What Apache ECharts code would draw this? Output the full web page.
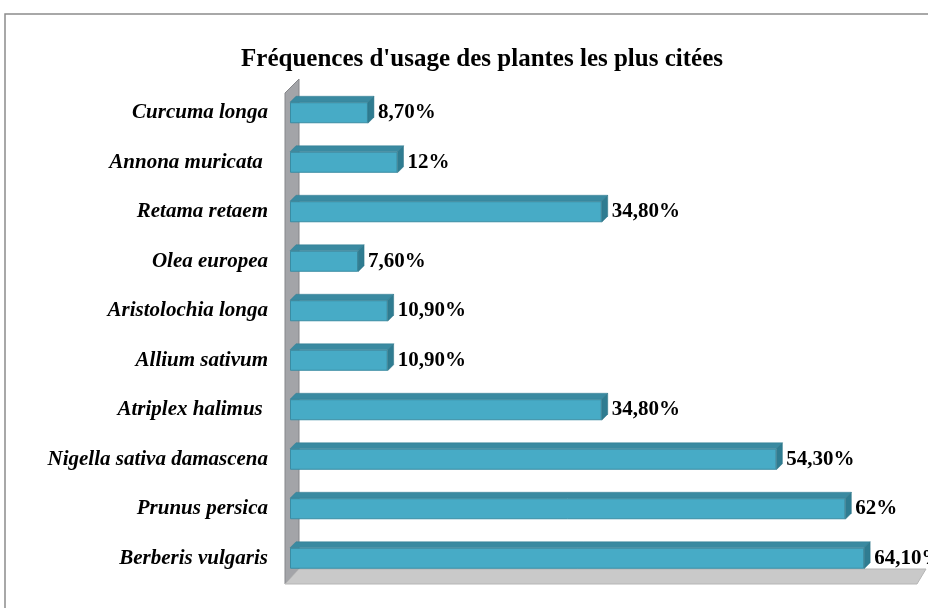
<!DOCTYPE html>
<html>
<head>
<meta charset="utf-8">
<script src="https://cdn.jsdelivr.net/npm/echarts@6/dist/echarts.min.js"></script>
<style>
html, body { margin: 0; padding: 0; background: #fff; }
#chartmain { width: 928px; height: 608px; }
</style>
</head>
<body>
<div id="chartmain"></div>
<script>
// donnees (de bas en haut)
var plantes = ['Berberis vulgaris', 'Prunus persica', 'Nigella sativa damascena', 'Atriplex halimus ',
	'Allium sativum', 'Aristolochia longa', 'Olea europea', 'Retama retaem', 'Annona muricata ', 'Curcuma longa'];
var frequences = [64.1, 62, 54.3, 34.8, 10.9, 10.9, 7.6, 34.8, 12, 8.7];
var etiquettes = ['64,10%', '62%', '54,30%', '34,80%', '10,90%', '10,90%', '7,60%', '34,80%', '12%', '8,70%'];

var serif = '"Liberation Serif", "DejaVu Serif", serif';
var depth = 6;
var barH = 21;

var option = {
	animation: false,
	title: {
		text: "Fréquences d'usage des plantes les plus citées",
		left: 477,
		textAlign: 'center',
		top: 42,
		textStyle: { fontFamily: serif, fontWeight: 'bold', fontSize: 25, color: '#000' }
	},
	grid: { left: 290, right: 11, top: 88, bottom: 25 },
	xAxis: {
		type: 'value', min: 0, max: 70, interval: 10,
		show: false, splitLine: { show: false }
	},
	yAxis: {
		type: 'category',
		data: plantes,
		axisLine: { show: false },
		axisTick: { show: false },
		axisLabel: {
			margin: 22,
			fontFamily: serif, fontStyle: 'italic', fontWeight: 'bold', fontSize: 21, color: '#000'
		}
	},
	graphic: [
		{ type: 'rect', shape: { x: 5, y: 14, width: 960, height: 640 },
			style: { fill: 'none', stroke: '#8c8c8c', lineWidth: 1.5 }, z: 0 },
		{ type: 'polygon', shape: { points: [[285, 93], [299, 79], [299, 569], [285, 584]] },
			style: { fill: '#a3a4a8', stroke: '#85868a', lineWidth: 1 }, z: 1 },
		{ type: 'polygon', shape: { points: [[285, 584], [299, 569], [926, 569], [917, 584]] },
			style: { fill: '#c9c9c9', stroke: '#b5b5b5', lineWidth: 1 }, z: 1 }
	],
	series: [
		{
			type: 'bar',
			data: frequences,
			barWidth: barH,
			z: 3,
			itemStyle: { color: '#47abc6', borderColor: '#3a8ca3', borderWidth: 1 },
			label: {
				show: true,
				position: 'right',
				distance: 10,
				formatter: function(p) { return etiquettes[p.dataIndex]; },
				fontFamily: serif, fontWeight: 'bold', fontSize: 21, color: '#000'
			}
		},
		{
			type: 'custom',
			data: frequences.map(function(v, i) { return [v, i]; }),
			z: 4,
			silent: true,
			renderItem: function(params, api) {
				var p0 = api.coord([0, api.value(1)]);
				var p1 = api.coord([api.value(0), api.value(1)]);
				var top = p0[1] - barH / 2;
				var bot = p0[1] + barH / 2;
				var x0 = p0[0], x1 = p1[0];
				return {
					type: 'group',
					children: [
						{ type: 'polygon',
							shape: { points: [[x0, top], [x1, top], [x1 + depth, top - depth], [x0 + depth, top - depth]] },
							style: { fill: '#3a8aa1', stroke: '#347f94', lineWidth: 0.5 } },
						{ type: 'polygon',
							shape: { points: [[x1, top], [x1 + depth, top - depth], [x1 + depth, bot - depth], [x1, bot]] },
							style: { fill: '#2f7c91', stroke: '#2b7285', lineWidth: 0.5 } }
					]
				};
			}
		}
	]
};
var myChart = echarts.init(document.getElementById('chartmain'));
myChart.setOption(option);
</script>
</body>
</html>
